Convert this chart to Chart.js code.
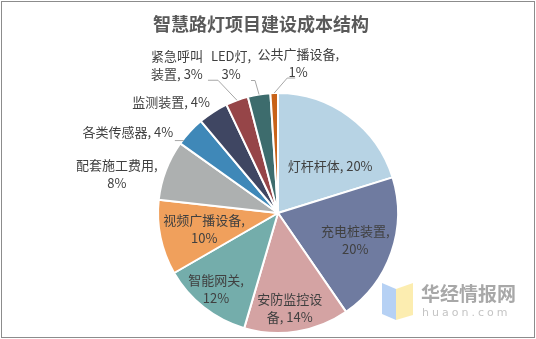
<!DOCTYPE html>
<html>
<head>
<meta charset="utf-8">
<script src="https://cdn.jsdelivr.net/npm/chart.js@4"></script>
<style>
  html, body { margin: 0; padding: 0; background: #fff; }
  #wrap { position: absolute; left: 1px; top: 1px; width: 532px; height: 335px; border: 1px solid #8c8c8c; }
  canvas { position: absolute; left: 0; top: 0; }
</style>
</head>
<body>
<div id="wrap"></div>
<canvas id="costChart" width="536" height="339"></canvas>
<script>
const categories = ["灯杆杆体", "充电桩装置", "安防监控设备", "智能网关", "视频广播设备", "配套施工费用", "各类传感器", "监测装置", "紧急呼叫装置", "LED灯", "公共广播设备"];
const shares = [20, 20, 14, 12, 10, 8, 4, 4, 3, 3, 1];
const sliceColors = ["#b7d3e4", "#6f7ba0", "#d4a3a3", "#74adab", "#f0a05c", "#adb0b0", "#3f88b8", "#3f4662", "#964548", "#3d6c6d", "#c86218"];

// where each label sits: inside at a fraction of the radius, or outside next to the rim
const labelLayout = [
  { pos: "in", brk: 0, dx: 8, dy: 13 },
  { pos: "in", brk: 6, dx: 7, dy: 3 },
  { pos: "in", brk: 5, dx: 0, dy: 22 },
  { pos: "in", brk: 5, dx: -16, dy: 18 },
  { pos: "in", brk: 7, dx: -1, dy: 1 },
  { pos: "out", brk: 7, dx: -49, dy: 4 },
  { pos: "out", brk: 0, dx: -62, dy: 0, leader: [[-6, 9], [-15, 9]] },
  { pos: "out", brk: 0, dx: -42, dy: -10 },
  { pos: "out", brk: 4, dx: -60, dy: -35, leader: [[0, 0], [-19, -20], [-29, -20]] },
  { pos: "out", brk: 5, dx: -28, dy: -29, leader: [[0, 0], [-4, -14], [-8, -14]] },
  { pos: "out", brk: 7, dx: 24, dy: -30, leader: [[0, 0], [13, -15], [21, -15]] }
];

const labelPlugin = {
  id: "sliceLabels",
  afterDatasetsDraw(chart) {
    const ctx = chart.ctx;
    const arcs = chart.getDatasetMeta(0).data;
    ctx.save();
    ctx.font = "13px 'Noto Sans CJK SC', sans-serif";
    ctx.textAlign = "center";
    ctx.textBaseline = "middle";
    arcs.forEach((arc, i) => {
      const p = arc.getProps(["x", "y", "startAngle", "endAngle", "outerRadius"], true);
      const mid = (p.startAngle + p.endAngle) / 2;
      const L = labelLayout[i];
      const r = L.pos === "in" ? p.outerRadius * 0.62 : p.outerRadius;
      const ax = p.x + Math.cos(mid) * r;
      const ay = p.y + Math.sin(mid) * r;
      if (L.leader) {
        ctx.strokeStyle = "#a6a6a6";
        ctx.lineWidth = 1;
        ctx.beginPath();
        L.leader.forEach((pt, k) => {
          if (k === 0) ctx.moveTo(ax + pt[0], ay + pt[1]);
          else ctx.lineTo(ax + pt[0], ay + pt[1]);
        });
        ctx.stroke();
      }
      const full = categories[i] + ", " + shares[i] + "%";
      let lines = [full];
      if (L.brk) lines = [full.slice(0, L.brk), full.slice(L.brk).trim()];
      const lh = 18;
      const cx = ax + L.dx;
      const cy = ay + L.dy - (lines.length - 1) * lh / 2;
      ctx.fillStyle = "#404040";
      lines.forEach((t, k) => ctx.fillText(t, cx, cy + k * lh));
    });
    ctx.restore();
  },
  afterDraw(chart) {
    const ctx = chart.ctx;
    ctx.save();
    // title
    ctx.fillStyle = "#595959";
    ctx.font = "bold 18px 'Noto Sans CJK SC', sans-serif";
    ctx.textAlign = "center";
    ctx.textBaseline = "middle";
    ctx.fillText("智慧路灯项目建设成本结构", 261, 24);
    // watermark
    ctx.globalAlpha = 0.85;
    ctx.fillStyle = "#a9c9f2";
    ctx.beginPath();
    ctx.moveTo(382, 283); ctx.lineTo(396, 289); ctx.lineTo(396, 320); ctx.lineTo(382, 314);
    ctx.closePath(); ctx.fill();
    ctx.fillStyle = "#fbeaa2";
    ctx.beginPath();
    ctx.moveTo(396, 289); ctx.lineTo(413, 283); ctx.lineTo(413, 315); ctx.lineTo(396, 320);
    ctx.closePath(); ctx.fill();
    ctx.globalAlpha = 1;
    ctx.textAlign = "left";
    ctx.fillStyle = "#a8a8a8";
    ctx.font = "bold 19px 'Noto Sans CJK SC', sans-serif";
    ctx.fillText("华经情报网", 421, 294);
    ctx.fillStyle = "#c4c4c4";
    ctx.font = "11px 'DejaVu Sans', sans-serif";
    ctx.letterSpacing = "3px";
    ctx.fillText("huaon.com", 422, 313);
    ctx.restore();
  }
};

new Chart(document.getElementById("costChart"), {
  type: "pie",
  data: {
    labels: categories,
    datasets: [{
      data: shares,
      backgroundColor: sliceColors,
      borderColor: "#ffffff",
      borderWidth: 2
    }]
  },
  options: {
    responsive: false,
    animation: false,
    layout: { padding: { top: 92, bottom: 5, left: 157, right: 137 } },
    plugins: {
      legend: { display: false },
      tooltip: { enabled: false },
      title: { display: false }
    }
  },
  plugins: [labelPlugin]
});
</script>
</body>
</html>
